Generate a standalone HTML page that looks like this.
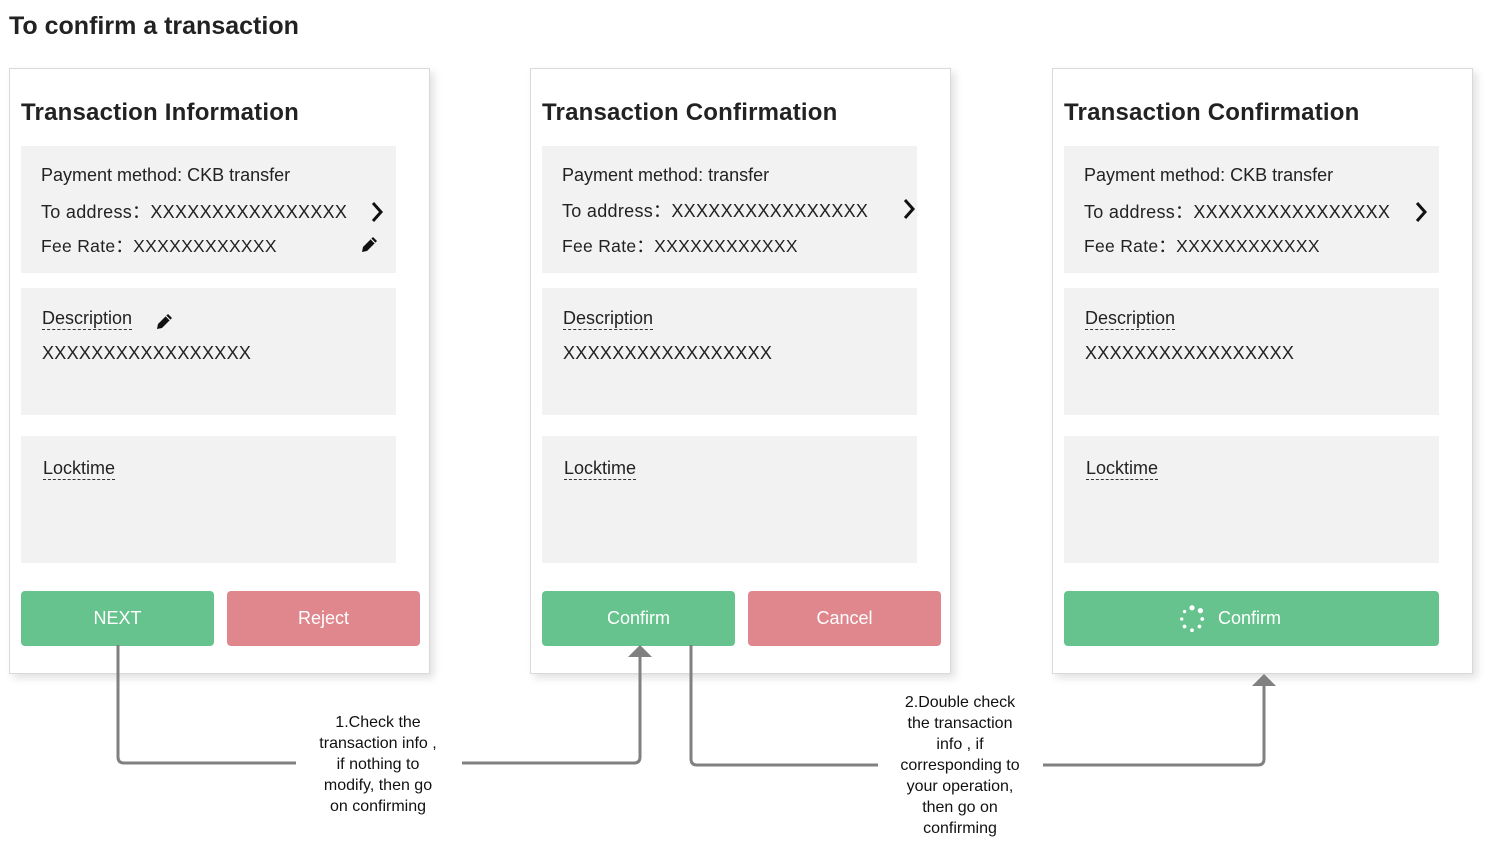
<!DOCTYPE html>
<html><head><style>
body{margin:0;width:1504px;height:866px;background:#fff;font-family:"Liberation Sans",Arial,sans-serif;position:relative;overflow:hidden;color:#222}
.abs{position:absolute}
.panel{position:absolute;top:68px;width:419px;height:604px;border:1px solid #d9d9d9;box-shadow:4px 4px 8px rgba(0,0,0,0.12);background:#fff}
.h{position:absolute;left:11px;top:30px;font-size:24px;font-weight:bold;color:#222;letter-spacing:0.2px}
.blk{position:absolute;left:11px;width:375px;height:127px;background:#f2f2f2}
.t{position:absolute;font-size:18px;color:#222;white-space:nowrap}
.u{border-bottom:1px dashed #333;padding-bottom:1px}
.btn{position:absolute;top:522px;height:55px;border-radius:4px;color:#fff;font-size:18px;display:flex;align-items:center;justify-content:center}
.g{background:#66c38e}.r{background:#e0868d}
.lbl{position:absolute;font-size:16px;text-align:center;line-height:21px;color:#111}
.chev{position:absolute;width:14px;height:24px}
.pen{position:absolute;width:20px;height:20px}
</style></head><body>
<div class="abs" style="left:9px;top:12px;font-size:25px;font-weight:bold;color:#222">To confirm a transaction</div>

<div class="panel" style="left:9px">
<div class="h">Transaction Information</div>
<div class="blk" style="top:77px">
<div class="t" style="left:20px;top:19px">Payment method: CKB transfer</div>
<div class="t" style="left:20px;top:52px;letter-spacing:0.3px">To address：XXXXXXXXXXXXXXXX</div>
<div class="t" style="left:20px;top:87px;font-size:17.5px;letter-spacing:0.3px">Fee Rate：XXXXXXXXXXXX</div>
<svg class="chev" style="left:349px;top:54px" viewBox="0 0 14 24"><polyline points="3,3 11,12 3,21" fill="none" stroke="#111" stroke-width="3"/></svg>
<svg class="pen" style="left:338px;top:89px" viewBox="0 0 20 20"><path d="M3 17 L4 12 L14 2 L18 6 L8 16 Z" fill="#111"/><path d="M12 4 L16 8" stroke="#f2f2f2" stroke-width="1.2"/></svg>
</div>
<div class="blk" style="top:219px">
<div class="t" style="left:21px;top:20px"><span class="u">Description</span></div>
<svg class="pen" style="left:133px;top:24px" viewBox="0 0 20 20"><path d="M3 17 L4 12 L14 2 L18 6 L8 16 Z" fill="#111"/><path d="M12 4 L16 8" stroke="#f2f2f2" stroke-width="1.2"/></svg>
<div class="t" style="left:21px;top:55px;letter-spacing:0.3px">XXXXXXXXXXXXXXXXX</div>
</div>
<div class="blk" style="top:367px"><div class="t" style="left:22px;top:22px"><span class="u">Locktime</span></div></div>
<div class="btn g" style="left:11px;width:193px">NEXT</div>
<div class="btn r" style="left:217px;width:193px">Reject</div>
</div>

<div class="panel" style="left:530px">
<div class="h">Transaction Confirmation</div>
<div class="blk" style="top:77px">
<div class="t" style="left:20px;top:19px">Payment method: transfer</div>
<div class="t" style="left:20px;top:51px;letter-spacing:0.3px">To address：XXXXXXXXXXXXXXXX</div>
<div class="t" style="left:20px;top:87px;font-size:17.5px;letter-spacing:0.3px">Fee Rate：XXXXXXXXXXXX</div>
<svg class="chev" style="left:360px;top:51px" viewBox="0 0 14 24"><polyline points="3,3 11,12 3,21" fill="none" stroke="#111" stroke-width="3"/></svg>
</div>
<div class="blk" style="top:219px">
<div class="t" style="left:21px;top:20px"><span class="u">Description</span></div>
<div class="t" style="left:21px;top:55px;letter-spacing:0.3px">XXXXXXXXXXXXXXXXX</div>
</div>
<div class="blk" style="top:367px"><div class="t" style="left:22px;top:22px"><span class="u">Locktime</span></div></div>
<div class="btn g" style="left:11px;width:193px">Confirm</div>
<div class="btn r" style="left:217px;width:193px">Cancel</div>
</div>

<div class="panel" style="left:1052px">
<div class="h">Transaction Confirmation</div>
<div class="blk" style="top:77px">
<div class="t" style="left:20px;top:19px">Payment method: CKB transfer</div>
<div class="t" style="left:20px;top:52px;letter-spacing:0.3px">To address：XXXXXXXXXXXXXXXX</div>
<div class="t" style="left:20px;top:87px;font-size:17.5px;letter-spacing:0.3px">Fee Rate：XXXXXXXXXXXX</div>
<svg class="chev" style="left:350px;top:54px" viewBox="0 0 14 24"><polyline points="3,3 11,12 3,21" fill="none" stroke="#111" stroke-width="3"/></svg>
</div>
<div class="blk" style="top:219px">
<div class="t" style="left:21px;top:20px"><span class="u">Description</span></div>
<div class="t" style="left:21px;top:55px;letter-spacing:0.3px">XXXXXXXXXXXXXXXXX</div>
</div>
<div class="blk" style="top:367px"><div class="t" style="left:22px;top:22px"><span class="u">Locktime</span></div></div>
<div class="btn g" style="left:11px;width:375px">
<svg class="abs" style="left:114px;top:14px" width="28" height="28" viewBox="0 0 30 30"><g fill="#fff"><circle cx="15" cy="3" r="2.8"/><circle cx="24" cy="6" r="2.8"/><circle cx="26" cy="15" r="2"/><circle cx="23" cy="23" r="2"/><circle cx="15" cy="27" r="2"/><circle cx="7" cy="23" r="2"/><circle cx="4" cy="15" r="1.8"/><circle cx="7" cy="7" r="1.8"/></g></svg>
<span class="abs" style="left:154px;top:17px">Confirm</span></div>
</div>

<svg class="abs" style="left:0;top:0" width="1504" height="866">
<g fill="none" stroke="#808080" stroke-width="3" stroke-linejoin="round">
<path d="M118 645 V757 Q118 763 124 763 H296"/>
<path d="M462 763 H634 Q640 763 640 757 V656"/>
<path d="M691 645 V759 Q691 765 697 765 H878"/>
<path d="M1043 765 H1258 Q1264 765 1264 759 V684"/>
</g>
<polygon points="628,657 652,657 640,645" fill="#808080"/>
<polygon points="1252,686 1276,686 1264,674" fill="#808080"/>
</svg>
<div class="lbl" style="left:298px;top:712px;width:160px">1.Check the<br>transaction info ,<br>if nothing to<br>modify, then go<br>on confirming</div>
<div class="lbl" style="left:880px;top:692px;width:160px">2.Double check<br>the transaction<br>info , if<br>corresponding to<br>your operation,<br>then go on<br>confirming</div>
</body></html>
